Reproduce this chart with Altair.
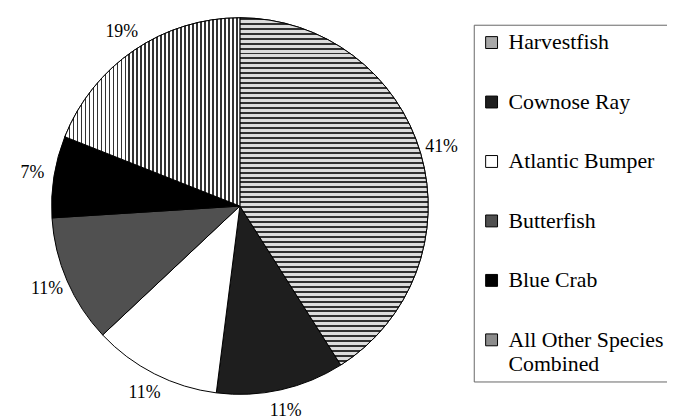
import altair as alt
import pandas as pd

species = ["Harvestfish", "Cownose Ray", "Atlantic Bumper", "Butterfish",
           "Blue Crab", "All Other Species Combined"]
shares = [41, 11, 11, 11, 7, 19]
labels = ["41%", "11%", "11%", "11%", "7%", "19%"]
colors = ["#a8a8a8", "#1e1e1e", "#ffffff", "#505050", "#000000", "#8c8c8c"]

df = pd.DataFrame({"species": species, "share": shares,
                   "order": list(range(len(species))), "label": labels})

CX, CY, R = 234, 198, 190
SERIF = "Liberation Serif"


def stripes(n, dark, light, frac, vertical_lines):
    stops = []
    for i in range(n):
        a = i / n
        b = (i + frac) / n
        c = (i + 1) / n
        stops += [{"offset": a, "color": dark}, {"offset": b, "color": dark},
                  {"offset": b, "color": light}, {"offset": c, "color": light}]
    if vertical_lines:
        return {"gradient": "linear", "x1": 0, "x2": 1, "y1": 0, "y2": 0, "stops": stops}
    return {"gradient": "linear", "x1": 0, "x2": 0, "y1": 0, "y2": 1, "stops": stops}


theta_scale = alt.Scale(domain=[0, 100])

base = alt.Chart(df).transform_window(
    cum="sum(share)", sort=[alt.SortField("order")], frame=[None, 0]
).transform_calculate(
    start="datum.cum - datum.share", mid="datum.cum - datum.share / 2"
)

pos = dict(x=alt.value(CX), y=alt.value(CY))

arc = base.mark_arc(outerRadius=R, stroke="black", strokeWidth=1).encode(
    theta=alt.Theta("start:Q", scale=theta_scale),
    theta2="cum:Q",
    color=alt.Color(
        "species:N",
        scale=alt.Scale(domain=species, range=colors),
        legend=alt.Legend(
            orient="none", legendX=470, legendY=15, title=None,
            symbolType="square", symbolSize=144, symbolStrokeColor="black",
            symbolStrokeWidth=1, labelFont=SERIF, labelFontSize=22,
            labelColor="black", labelOffset=6, rowPadding=38, padding=7,
            strokeColor="#666666", labelLimit=300,
            labelExpr="datum.label == 'All Other Species Combined' ? ['All Other Species', 'Combined'] : datum.label",
        ),
    ),
    order=alt.Order("order:Q"),
    **pos,
)

harv = base.transform_filter("datum.species == 'Harvestfish'").mark_arc(
    outerRadius=R, stroke="black", strokeWidth=1,
    fill=stripes(70, "#303030", "#dcdcdc", 0.4, False),
).encode(theta=alt.Theta("start:Q", scale=theta_scale), theta2="cum:Q", **pos)

others = base.transform_filter("datum.species == 'All Other Species Combined'").mark_arc(
    outerRadius=R, stroke="black", strokeWidth=1,
    fill=stripes(44, "#333333", "#ffffff", 0.4, True),
).encode(theta=alt.Theta("start:Q", scale=theta_scale), theta2="cum:Q", **pos)

text = base.mark_text(radius=212, font=SERIF, fontSize=18,
                      color="black").encode(
    theta=alt.Theta("mid:Q", scale=theta_scale),
    text="label:N",
    **pos,
)

chart = alt.layer(arc, harv, others, text).properties(
    width=665, height=412, autosize="none", padding=0
).configure(font=SERIF).configure_view(stroke=None).configure_legend(labelFont=SERIF)

chart.save("out.html", embed_options={"renderer": "svg", "actions": False})
